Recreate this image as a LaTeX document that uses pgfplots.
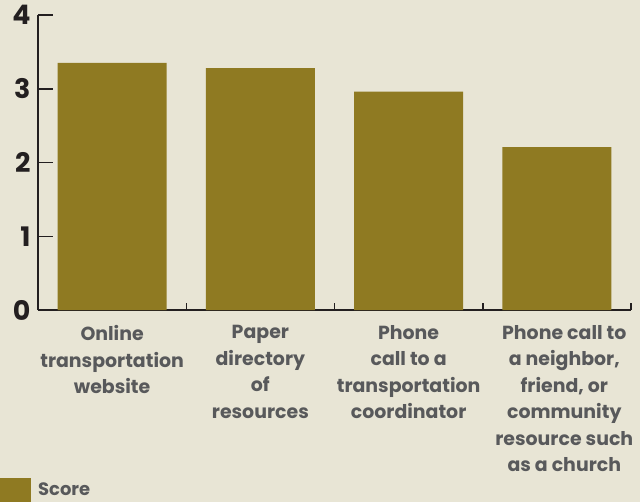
\documentclass[border=0pt]{standalone}
\usepackage{pgfplots}
\pgfplotsset{compat=1.18}
\usepackage{fontspec}
\setmainfont{Poppins}
\definecolor{bg}{RGB}{232,229,213}
\definecolor{barc}{RGB}{143,122,34}
\definecolor{lab}{RGB}{88,89,91}
\definecolor{ink}{RGB}{35,31,32}
\begin{document}
\begin{tikzpicture}
\fill[bg] (-38bp,-192bp) rectangle (602bp,310bp);
\begin{axis}[
  at={(0,0)}, anchor=south west,
  scale only axis, width=593bp, height=295bp,
  axis x line=bottom, axis y line=left,
  axis line style={-, ink, line width=1.5bp},
  xmin=-0.5, xmax=3.5, ymin=0, ymax=4,
  clip=false,
  ytick={0,1,2,3,4},
  xtick=\empty,
  extra x ticks={0,1,2,3.05},
  extra x tick labels={{Online\\transportation\\website},
               {Paper\\directory\\of\\resources},
               {Phone\\call to a\\transportation\\coordinator},
               {Phone call to\\a neighbor,\\friend, or\\community\\resource such\\as a church}},
  extra x tick style={major tick length=0pt,
    xticklabel style={font=\fontsize{19}{26.5}\selectfont\bfseries, text=lab,
                      align=center, anchor=north, yshift=-12bp}},
  tick align=inside,
  major tick length=0pt,
  /pgf/number format/assume math mode=true,
  yticklabel style={font=\fontsize{27}{27}\selectfont\bfseries, text=ink,
                    anchor=east, xshift=-4bp},
  legend style={at={(-0.0641,-0.6508)}, anchor=south west, draw=none, fill=none,
                inner sep=0pt, font=\fontsize{18}{18}\selectfont\bfseries, text=lab},
  legend cell align=left,
]
\addplot[ybar, bar width=109bp, bar shift=0pt, fill=barc, draw=none,
  legend image code/.code={\fill[barc] (0bp,-12bp) rectangle (31bp,12bp);
                           \path (36bp,0bp);}]
  coordinates {(0,3.35) (1,3.28) (2,2.96) (3,2.21)};
\legend{Score}
% y ticks (15px to the right of the axis)
\addplot[ink, line width=1.5bp, forget plot] coordinates {(-0.5,1) (-0.399,1)};
\addplot[ink, line width=1.5bp, forget plot] coordinates {(-0.5,2) (-0.399,2)};
\addplot[ink, line width=1.5bp, forget plot] coordinates {(-0.5,3) (-0.399,3)};
\addplot[ink, line width=1.5bp, forget plot] coordinates {(-0.5,4) (-0.399,4)};
\addplot[ink, line width=1.5bp, forget plot] coordinates {(-0.5,0) (-0.399,0)};
% x ticks at category boundaries (7px up)
\addplot[ink, line width=1.5bp, forget plot] coordinates {(0.5,0) (0.5,0.095)};
\addplot[ink, line width=1.5bp, forget plot] coordinates {(1.5,0) (1.5,0.095)};
\addplot[ink, line width=1.5bp, forget plot] coordinates {(2.5,0) (2.5,0.095)};
\addplot[ink, line width=1.5bp, forget plot] coordinates {(3.5,0) (3.5,0.095)};
\end{axis}
\pgfresetboundingbox
\useasboundingbox (-38bp,-192bp) rectangle (602bp,310bp);
\end{tikzpicture}
\end{document}
